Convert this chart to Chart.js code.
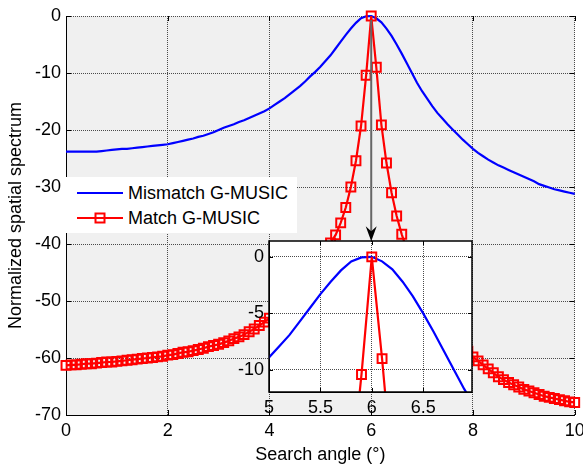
<!DOCTYPE html>
<html><head><meta charset="utf-8">
<script src="https://cdn.jsdelivr.net/npm/chart.js@4.4.1/dist/chart.umd.min.js"></script>
<style>
html,body{margin:0;padding:0;background:#fff;}
#wrap{position:relative;width:583px;height:467px;overflow:hidden;font-family:"Liberation Sans",Arial,sans-serif;}
#main{position:absolute;left:0;top:0;}
#inset{position:absolute;left:0;top:0;}
#legend{position:absolute;left:66px;top:177px;width:231px;height:56px;background:#fff;}
#legend .row{position:absolute;left:0;height:20px;width:231px;}
#legend svg{position:absolute;left:11px;top:0;}
#legend span{position:absolute;left:62px;top:0;line-height:20px;font-size:18px;color:#000;white-space:nowrap;}
</style></head>
<body><div id="wrap">
<canvas id="main" width="583" height="467"></canvas>
<canvas id="inset"></canvas>
<div id="legend"></div>
</div>
<script>
// ---- data ----
const angles = [0,0.1,0.2,0.3,0.4,0.5,0.6,0.7,0.8,0.9,1,1.1,1.2,1.3,1.4,1.5,1.6,1.7,1.8,1.9,2,2.1,2.2,2.3,2.4,2.5,2.6,2.7,2.8,2.9,3,3.1,3.2,3.3,3.4,3.5,3.6,3.7,3.8,3.9,4,4.1,4.2,4.3,4.4,4.5,4.6,4.7,4.8,4.9,5,5.1,5.2,5.3,5.4,5.5,5.6,5.7,5.8,5.9,6,6.1,6.2,6.3,6.4,6.5,6.6,6.7,6.8,6.9,7,7.1,7.2,7.3,7.4,7.5,7.6,7.7,7.8,7.9,8,8.1,8.2,8.3,8.4,8.5,8.6,8.7,8.8,8.9,9,9.1,9.2,9.3,9.4,9.5,9.6,9.7,9.8,9.9,10];
const mismatch = [-23.8,-23.8,-23.8,-23.8,-23.8,-23.8,-23.8,-23.7,-23.6,-23.5,-23.4,-23.3,-23.3,-23.2,-23.1,-23.0,-22.9,-22.8,-22.7,-22.6,-22.5,-22.3,-22.1,-21.9,-21.7,-21.5,-21.2,-21.0,-20.7,-20.4,-20.0,-19.6,-19.3,-19.0,-18.6,-18.3,-17.9,-17.5,-17.1,-16.7,-16.2,-15.6,-15.0,-14.4,-13.7,-13.0,-12.3,-11.5,-10.6,-9.8,-8.9,-7.9,-6.9,-5.7,-4.5,-3.3,-2.2,-1.2,-0.4,-0.05,0,-0.4,-1.1,-2.2,-3.5,-5.0,-6.6,-8.3,-10.0,-11.7,-13.2,-14.5,-15.8,-17.0,-18.0,-19.0,-19.9,-20.8,-21.7,-22.5,-23.3,-24.0,-24.6,-25.2,-25.7,-26.2,-26.6,-27.0,-27.4,-27.8,-28.2,-28.6,-29.0,-29.5,-29.8,-30.1,-30.4,-30.6,-30.8,-31.0,-31.2];
const match = [-61.3,-61.2,-61.2,-61.1,-61.0,-61.0,-60.9,-60.8,-60.7,-60.7,-60.6,-60.5,-60.4,-60.3,-60.2,-60.1,-60.0,-59.9,-59.8,-59.7,-59.5,-59.4,-59.2,-59.0,-58.9,-58.7,-58.5,-58.3,-58.0,-57.8,-57.6,-57.3,-57.0,-56.6,-56.3,-55.9,-55.4,-54.9,-54.3,-53.7,-53.0,-52.3,-51.5,-50.7,-49.8,-48.8,-47.7,-46.5,-45.2,-43.8,-42.3,-41.0,-39.8,-38.4,-36.3,-33.6,-30.0,-25.4,-19.3,-10.4,0,-9.0,-19.1,-25.8,-31.0,-35.1,-38.3,-41.0,-43.3,-45.4,-47.3,-49.0,-50.6,-52.0,-53.3,-54.5,-55.6,-56.7,-57.8,-58.8,-59.8,-60.5,-61.2,-61.9,-62.6,-63.3,-63.8,-64.3,-64.7,-65.1,-65.5,-65.8,-66.1,-66.4,-66.7,-66.9,-67.1,-67.3,-67.5,-67.7,-67.8];
const seriesNames = ['Mismatch G-MUSIC','Match G-MUSIC'];
const xTicks = [0,2,4,6,8,10];
const yTicks = [-70,-60,-50,-40,-30,-20,-10,0];
const insetXTicks = [5,5.5,6,6.5];
const insetYTicks = [-10,-5,0];
const insetXLim = [5,6.975];
const insetYLim = [-11.95,1.4];
const insetPlaceX = [4,8];        // inset box in main-axis units
const insetPlaceY = [-66,-39.5];
const arrowX = 6, arrowY = [0,-39.5];
const xTitle = 'Search angle (°)';
const yTitle = 'Normalized spatial spectrum';

// ---- styles ----
const FONT = '"Liberation Sans", Arial, sans-serif';
const FS = 18;
const BLUE = '#0000ff', RED = '#ff0000';
const GRID = '#4a4a4a';
const pts = (ys) => angles.map((a,i)=>({x:a,y:ys[i]}));

function fixTicks(list){ return (s)=>{ s.ticks = list.map(v=>({value:v})); }; }

const bgPlugin = (color)=>({
  id:'bg',
  beforeDraw(c){ const a=c.chartArea, ctx=c.ctx; ctx.save(); ctx.fillStyle=color; ctx.fillRect(a.left,a.top,a.right-a.left,a.bottom-a.top); ctx.restore(); }
});
const inwardTicks = (len)=>({
  id:'inward',
  beforeDatasetsDraw(c){
    const a=c.chartArea, ctx=c.ctx, xs=c.scales.x, ys=c.scales.y;
    ctx.save(); ctx.strokeStyle='#000'; ctx.lineWidth=1; ctx.beginPath();
    xs.ticks.forEach(t=>{ const p=Math.round(xs.getPixelForValue(t.value))+0.5;
      ctx.moveTo(p,a.bottom); ctx.lineTo(p,a.bottom-len); ctx.moveTo(p,a.top); ctx.lineTo(p,a.top+len); });
    ys.ticks.forEach(t=>{ const p=Math.round(ys.getPixelForValue(t.value))+0.5;
      ctx.moveTo(a.left,p); ctx.lineTo(a.left+len,p); ctx.moveTo(a.right,p); ctx.lineTo(a.right-len,p); });
    ctx.stroke(); ctx.restore();
  }
});
const arrowPlugin = {
  id:'arrow',
  afterDatasetsDraw(c){
    const ctx=c.ctx, xs=c.scales.x, ys=c.scales.y;
    const x=xs.getPixelForValue(arrowX), y0=ys.getPixelForValue(arrowY[0]), y1=ys.getPixelForValue(arrowY[1]);
    ctx.save();
    ctx.strokeStyle='#666'; ctx.lineWidth=2;
    ctx.beginPath(); ctx.moveTo(x,y0+4); ctx.lineTo(x,y1-8); ctx.stroke();
    ctx.fillStyle='#000';
    ctx.beginPath(); ctx.moveTo(x,y1); ctx.lineTo(x-5.5,y1-15); ctx.lineTo(x,y1-10); ctx.lineTo(x+5.5,y1-15); ctx.closePath(); ctx.fill();
    ctx.restore();
  }
};
const boxPlugin = {
  id:'box',
  afterDraw(c){ const a=c.chartArea, ctx=c.ctx; ctx.save(); ctx.strokeStyle='#000'; ctx.lineWidth=1.5;
    ctx.strokeRect(a.left,a.top,a.right-a.left,a.bottom-a.top); ctx.restore(); }
};

function datasets(clip){
  return [
    {label:seriesNames[0], data:pts(mismatch), borderColor:BLUE, borderWidth:2.2, pointRadius:0, order:2, clip:clip, tension:0},
    {label:seriesNames[1], data:pts(match), borderColor:RED, borderWidth:2.2, pointStyle:'rect', pointRadius:6.3, pointBorderWidth:2,
     pointBorderColor:RED, pointBackgroundColor:'rgba(0,0,0,0)', order:1, clip:clip, tension:0}
  ];
}

function axis(min,max,ticks,opts){
  return Object.assign({
    type:'linear', min:min, max:max, afterBuildTicks:fixTicks(ticks),
    grid:{color:GRID, lineWidth:1, drawTicks:false},
    border:{display:true, color:'#000', width:1, dash:[1,1]},
    ticks:{color:'#000', font:{family:FONT,size:FS}, padding:5, callback:(v)=>String(v)}
  }, opts);
}

Chart.defaults.font.family = FONT;

const mainChart = new Chart(document.getElementById('main'), {
  type:'line',
  data:{datasets:datasets(12)},
  options:{
    responsive:false, animation:false, devicePixelRatio:1,
    layout:{padding:{left:0,top:16,right:8,bottom:0}},
    plugins:{legend:{display:false}, tooltip:{enabled:false}},
    scales:{
      x: axis(0,10,xTicks,{
        afterFit:(s)=>{ s.height=52; s.paddingLeft=0; s.paddingRight=0; },
        ticks:{color:'#000', font:{family:FONT,size:FS}, padding:5, maxRotation:0, callback:(v)=>String(v)},
        title:{display:true, text:xTitle, color:'#000', font:{family:FONT,size:FS}, padding:{top:0,bottom:1}}
      }),
      y: axis(-70,0,yTicks,{
        afterFit:(s)=>{ s.width=66; s.paddingTop=0; s.paddingBottom=0; },
        title:{display:true, text:yTitle, color:'#000', font:{family:FONT,size:FS}, padding:{top:5,bottom:0}}
      })
    }
  },
  plugins:[bgPlugin('#f0f0f0'), inwardTicks(5), arrowPlugin]
});

// ---- inset placement from main scales ----
const mx = mainChart.scales.x, my = mainChart.scales.y;
const L = mx.getPixelForValue(insetPlaceX[0]), R = mx.getPixelForValue(insetPlaceX[1]);
const T = my.getPixelForValue(insetPlaceY[1]), B = my.getPixelForValue(insetPlaceY[0]);
const YW = 40, XH = 30, PT = 20, PR = 20;
const ic = document.getElementById('inset');
ic.width = Math.round(R-L+YW+PR); ic.height = Math.round(B-T+XH+PT);
ic.style.left = Math.round(L-YW)+'px'; ic.style.top = Math.round(T-PT)+'px';

new Chart(ic, {
  type:'line',
  data:{datasets:datasets(0)},
  options:{
    responsive:false, animation:false, devicePixelRatio:1,
    layout:{padding:{left:0,top:PT,right:PR,bottom:0}},
    plugins:{legend:{display:false}, tooltip:{enabled:false}},
    scales:{
      x: axis(insetXLim[0],insetXLim[1],insetXTicks,{
        afterFit:(s)=>{ s.height=XH; s.paddingLeft=0; s.paddingRight=0; },
        ticks:{color:'#000', font:{family:FONT,size:FS}, padding:5, maxRotation:0, callback:(v)=>String(v)}
      }),
      y: axis(insetYLim[0],insetYLim[1],insetYTicks,{
        afterFit:(s)=>{ s.width=YW; s.paddingTop=0; s.paddingBottom=0; }
      })
    }
  },
  plugins:[bgPlugin('#ffffff'), inwardTicks(4), boxPlugin]
});

// ---- legend (HTML) ----
const lg = document.getElementById('legend');
const rowsY = [6, 31];
seriesNames.forEach((name,i)=>{
  const row = document.createElement('div'); row.className='row'; row.style.top = rowsY[i]+'px';
  const col = i===0?BLUE:RED;
  let svg = '<svg width="46" height="20"><line x1="0" y1="10" x2="46" y2="10" stroke="'+col+'" stroke-width="2.2"/>';
  if(i===1) svg += '<rect x="18.5" y="5.5" width="9" height="9" fill="none" stroke="'+col+'" stroke-width="2"/>';
  svg += '</svg>';
  row.innerHTML = svg + '<span>'+name+'</span>';
  lg.appendChild(row);
});
</script>
</body></html>
